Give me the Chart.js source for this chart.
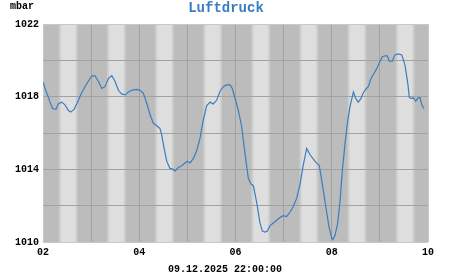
<!DOCTYPE html>
<html>
<head>
<meta charset="utf-8">
<script src="https://cdn.jsdelivr.net/npm/chart.js@4"></script>
<style>
  html, body { margin: 0; padding: 0; background: #fff; }
  #wrap { width: 451px; height: 275px; position: relative; }
</style>
</head>
<body>
<div id="wrap"><canvas id="chart"></canvas></div>
<script>
// --- data (hours since 02.12. 00:00) ---
const hours = [0, 1.5, 2.6, 3.5, 4.8, 6.5, 7.6, 9.3, 11, 12.6, 13.8, 15.5, 16.8, 18.8, 20.9, 22.6,
  24.3, 25.9, 27.6, 29.3, 30.9, 32.6, 34.3, 35.9, 37.6, 39.2, 40.9, 42.5, 44.2, 46.7,
  48.4, 50, 51.7, 53.4, 55, 56.7, 58.3, 59.2, 60.5, 61.7, 63.3, 65, 65.8, 67.5, 69.2, 70.8,
  72, 73.3, 75, 76.7, 78.3, 79.9, 81.6, 83.3, 84.9, 86.6, 88.3, 89.9, 91.6, 93.3, 94.4, 95.8,
  97.4, 99, 100.7, 102.4, 103.7, 104.9, 106.6, 108.2, 109.4, 110.7, 111.9, 113.2, 114.9, 116.5, 118.2, 119.8,
  121.5, 123.2, 124.8, 126.5, 128.2, 129.8, 131.5, 133.2, 135.6, 137.8, 139.5, 141.1, 142.6, 144, 144.6,
  145.6, 146.9, 148.1, 149.3, 150.6, 152, 153.1, 154.8, 156, 157.2, 158.6, 159.7, 160.9, 162.2, 163.6,
  165.2, 166.7, 168.1, 169.2, 170.6, 171.7, 172.7, 174.2, 175.5, 177.2, 178.9, 180.5, 181.9, 182.7, 183.9,
  184.7, 185.9, 187.2, 188, 188.9, 190];
const pressure = [1018.8, 1018.3, 1018.0, 1017.7, 1017.35, 1017.3, 1017.6, 1017.7, 1017.55, 1017.25, 1017.15, 1017.3, 1017.6, 1018.1, 1018.55, 1018.85,
  1019.15, 1019.15, 1018.85, 1018.45, 1018.55, 1019.0, 1019.15, 1018.85, 1018.35, 1018.15, 1018.1, 1018.25, 1018.35, 1018.4,
  1018.35, 1018.2, 1017.65, 1017.0, 1016.55, 1016.4, 1016.25, 1015.9, 1015.1, 1014.45, 1014.05, 1014.0, 1013.9, 1014.1, 1014.2, 1014.35,
  1014.45, 1014.35, 1014.6, 1015.05, 1015.7, 1016.7, 1017.5, 1017.7, 1017.6, 1017.8, 1018.3, 1018.55, 1018.65, 1018.65, 1018.45, 1017.9,
  1017.25, 1016.4, 1014.9, 1013.5, 1013.2, 1013.1, 1012.15, 1011.05, 1010.6, 1010.55, 1010.6, 1010.9, 1011.05, 1011.2, 1011.35, 1011.45,
  1011.4, 1011.65, 1011.95, 1012.4, 1013.2, 1014.25, 1015.15, 1014.8, 1014.45, 1014.2, 1013.05, 1011.9, 1010.85, 1010.2, 1010.15,
  1010.35, 1011.0, 1012.2, 1013.95, 1015.4, 1016.7, 1017.45, 1018.25, 1017.9, 1017.7, 1017.9, 1018.2, 1018.4, 1018.55, 1019.0,
  1019.3, 1019.6, 1019.95, 1020.2, 1020.25, 1020.25, 1019.95, 1019.95, 1020.3, 1020.35, 1020.3, 1019.75, 1018.75, 1017.95, 1017.9,
  1017.95, 1017.75, 1017.95, 1017.95, 1017.55, 1017.35];

const dayLabels = ['02', '03', '04', '05', '06', '07', '08', '09', '10'];
const yLabels = [1010, 1014, 1018, 1022];
const daylight = [8.4, 16.8]; // light band per day (hours)

const title = 'Luftdruck';
const unit = 'mbar';
const stamp = '09.12.2025 22:00:00';

const MONO = '"Liberation Mono", "DejaVu Sans Mono", monospace';

// day / night stripes behind the grid, texts on top
const stripes = {
  id: 'stripes',
  beforeDraw(chart) {
    const { ctx, chartArea: a, scales: { x } } = chart;
    ctx.save();
    ctx.fillStyle = '#bcbcbc';
    ctx.fillRect(a.left, a.top, a.right - a.left, a.bottom - a.top);
    for (let d = 0; d < dayLabels.length - 1; d++) {
      const x0 = x.getPixelForValue(d * 24 + daylight[0]);
      const x1 = x.getPixelForValue(d * 24 + daylight[1]);
      ctx.fillStyle = '#cdcdcd';
      ctx.fillRect(x0 - 1, a.top, x1 - x0 + 2, a.bottom - a.top);
      ctx.fillStyle = '#dedede';
      ctx.fillRect(x0 + 1, a.top, x1 - x0 - 2, a.bottom - a.top);
    }
    ctx.restore();
  },
  afterDraw(chart) {
    const { ctx } = chart;
    ctx.save();
    ctx.textAlign = 'center';
    ctx.textBaseline = 'middle';
    ctx.fillStyle = '#3a7dbf';
    ctx.font = 'bold 14px ' + MONO;
    ctx.fillText(title, 226, 8);
    ctx.fillStyle = '#000';
    ctx.font = 'bold 10px ' + MONO;
    ctx.textAlign = 'left';
    ctx.fillText(unit, 10, 6);
    ctx.textAlign = 'center';
    ctx.fillText(stamp, 225, 269);
    ctx.restore();
  }
};

const gridColor = (c) => (c.index === 0 || c.index === c.chart.scales[c.scale.id].ticks.length - 1) ? '#c8c8c8' : '#a2a2a2';

new Chart(document.getElementById('chart'), {
  type: 'line',
  data: {
    datasets: [{
      data: hours.map((h, i) => ({ x: h, y: pressure[i] })),
      borderColor: '#3a7dbf',
      borderWidth: 1.2,
      pointRadius: 0,
      tension: 0,
      fill: false
    }]
  },
  options: {
    responsive: true,
    maintainAspectRatio: false,
    animation: false,
    layout: { padding: { top: 24, right: 23, left: 0, bottom: 0 } },
    plugins: { legend: { display: false }, tooltip: { enabled: false } },
    scales: {
      x: {
        type: 'linear',
        min: 0,
        max: 192,
        afterFit: (s) => { s.height = 33; },
        afterBuildTicks: (s) => { s.ticks = dayLabels.map((_, i) => ({ value: i * 24 })); },
        ticks: {
          autoSkip: false,
          maxRotation: 0,
          padding: 4,
          color: '#000',
          font: { family: MONO, size: 10, weight: 'bold' },
          callback: (v, i) => (i % 2 === 0 ? dayLabels[i] : '')
        },
        grid: { color: gridColor, drawTicks: false, lineWidth: 1 },
        border: { display: false }
      },
      y: {
        min: 1010,
        max: 1022,
        afterFit: (s) => { s.width = 43; },
        ticks: {
          stepSize: 2,
          padding: 4,
          color: '#000',
          font: { family: MONO, size: 10, weight: 'bold' },
          callback: (v) => (yLabels.includes(v) ? String(v) : '')
        },
        grid: { color: gridColor, drawTicks: false, lineWidth: 1 },
        border: { display: false }
      }
    }
  },
  plugins: [stripes]
});
</script>
</body>
</html>
